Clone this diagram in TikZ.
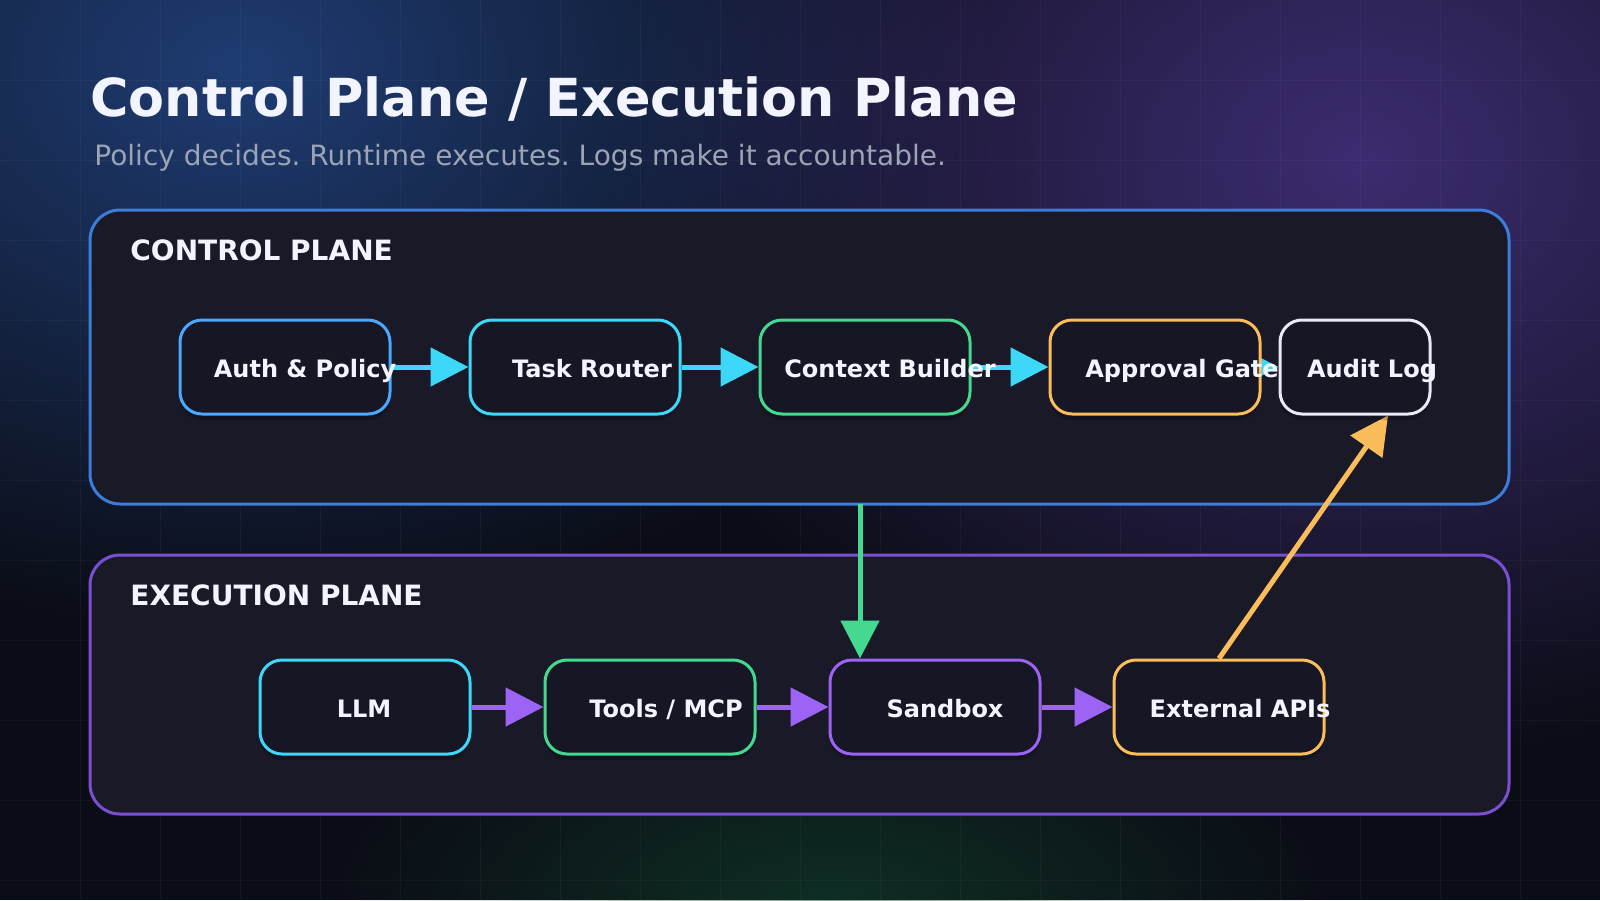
\documentclass[tikz,border=0pt]{standalone}
\usepackage{fontspec}
\setmainfont{DejaVu Sans}
\usepackage{tikz}
\usetikzlibrary{arrows.meta, positioning, calc, shadows, fadings}
\usepackage{xcolor}
\definecolor{bgbase}{HTML}{0B0D16}
\definecolor{glowblue}{HTML}{24488A}
\definecolor{glowpurple}{HTML}{4A3488}
\definecolor{glowgreen}{HTML}{124A30}
\definecolor{panelfill}{HTML}{191928}
\definecolor{boxfill}{HTML}{161624}
\definecolor{ctrlblue}{HTML}{3B7DD8}
\definecolor{execpurple}{HTML}{7A4FD0}
\definecolor{authblue}{HTML}{4AA8FF}
\definecolor{flowcyan}{HTML}{3DD8F8}
\definecolor{flowgreen}{HTML}{45D990}
\definecolor{floworange}{HTML}{FBBD5A}
\definecolor{flowpurple}{HTML}{9D63F5}
\definecolor{auditwhite}{HTML}{E8EAF4}
\definecolor{titlewhite}{HTML}{F2F5FF}
\definecolor{subgray}{HTML}{9BA3B5}

\tikzfading[name=glowfade, inner color=transparent!0, outer color=transparent!100]

\pgfdeclarelayer{bg}
\pgfdeclarelayer{links}
\pgfsetlayers{bg,links,main}

\tikzset{
  plane/.style={draw=#1, line width=1.5pt, rounded corners=15pt, fill=panelfill, inner sep=0pt},
  card/.style={draw=#1, line width=1.5pt, rounded corners=11pt, fill=boxfill,
    minimum width=105pt, minimum height=47pt, inner sep=0pt,
    drop shadow={shadow xshift=0pt, shadow yshift=-3pt, opacity=.2, fill=black}},
  lbl/.style={font=\bfseries\fontsize{12}{14}\selectfont, text=titlewhite,
    text height=8.8pt, text depth=0pt, inner sep=0pt, yshift=-0.8pt},
  flow/.style={draw=#1, line width=2.5pt, -{Triangle[length=19pt, width=19pt, fill=#1]}},
  gridline/.style={draw=white, opacity=.035, line width=.5pt},
}

\begin{document}
\frenchspacing
\begin{tikzpicture}[x=0.5pt, y=-0.5pt]
  \useasboundingbox (0,0) rectangle (1600,900);

  % background, glows, grid
  \begin{pgfonlayer}{bg}
    \fill[bgbase] (0,0) rectangle (1600,900);
    \fill[glowblue, path fading=glowfade, fill opacity=.8] (240,70) ellipse (760 and 560);
    \fill[glowpurple, path fading=glowfade, fill opacity=.8] (1360,160) ellipse (760 and 600);
    \fill[glowgreen, path fading=glowfade, fill opacity=.55] (830,900) ellipse (500 and 220);
    \foreach \x in {80,160,...,1520} \draw[gridline] (\x,0) -- (\x,900);
    \foreach \y in {80,160,...,880} \draw[gridline] (0,\y) -- (1600,\y);

    \node[plane=ctrlblue, minimum width=709.5pt, minimum height=147pt] (ctrl) at (799.5,357) {};
    \node[plane=execpurple, minimum width=709.5pt, minimum height=129.5pt] (exec) at (799.5,684.5) {};
  \end{pgfonlayer}

  % titles
  \node[anchor=base west, inner sep=0pt, text=titlewhite, font=\bfseries\fontsize{26.2}{30}\selectfont] (title) at (90,116) {Control Plane / Execution Plane};
  \node[anchor=base west, inner sep=0pt, text=subgray, font=\fontsize{14}{17}\selectfont] (subtitle) at (94,165) {Policy decides. Runtime executes. Logs make it accountable.};
  \node[anchor=base west, inner sep=0pt, text=titlewhite, font=\bfseries\fontsize{14}{17}\selectfont] (ctrllbl) at (130,260) {CONTROL PLANE};
  \node[anchor=base west, inner sep=0pt, text=titlewhite, font=\bfseries\fontsize{14}{17}\selectfont] (execlbl) at (130,605) {EXECUTION PLANE};

  % control plane
  \node[card=authblue, label={[lbl, xshift=10pt]center:Auth \& Policy}] (auth) at (285,367) {};
  \node[card=flowcyan, label={[lbl, xshift=8.5pt]center:Task Router}] (task) at (575,367) {};
  \node[card=flowgreen, label={[lbl, xshift=12.5pt]center:Context Builder}] (ctx) at (865,367) {};
  \node[card=floworange, label={[lbl, xshift=13.5pt]center:Approval Gate}] (gate) at (1155,367) {};
  \node[card=auditwhite, minimum width=75pt, label={[lbl, xshift=8.5pt]center:Audit Log}] (audit) at (1355,367) {};

  % execution plane
  \node[card=flowcyan, label={[lbl, xshift=-0.5pt]center:LLM}] (llm) at (365,707) {};
  \node[card=flowgreen, label={[lbl, xshift=8pt]center:Tools / MCP}] (tools) at (650,707) {};
  \node[card=flowpurple, label={[lbl, xshift=5pt]center:Sandbox}] (sandbox) at (935,707) {};
  \node[card=floworange, label={[lbl, xshift=10.5pt]center:External APIs}] (ext) at (1219,707) {};

  \coordinate (drop) at (860,504);

  \begin{pgfonlayer}{links}
    \draw[flow=flowcyan] (auth) -- (task);
    \draw[flow=flowcyan] (task) -- (ctx);
    \draw[flow=flowcyan] (ctx) -- (gate);
    \draw[flow=flowcyan] (gate) -- (audit);
    \draw[flow=flowpurple] (llm) -- (tools);
    \draw[flow=flowpurple] (tools) -- (sandbox);
    \draw[flow=flowpurple] (sandbox) -- (ext);
    \draw[flow=flowgreen] (drop) -- (drop |- sandbox.north);
    \draw[flow=floworange] (ext.north) -- ($(audit.south)+(33,0)$);
  \end{pgfonlayer}
\end{tikzpicture}
\end{document}
